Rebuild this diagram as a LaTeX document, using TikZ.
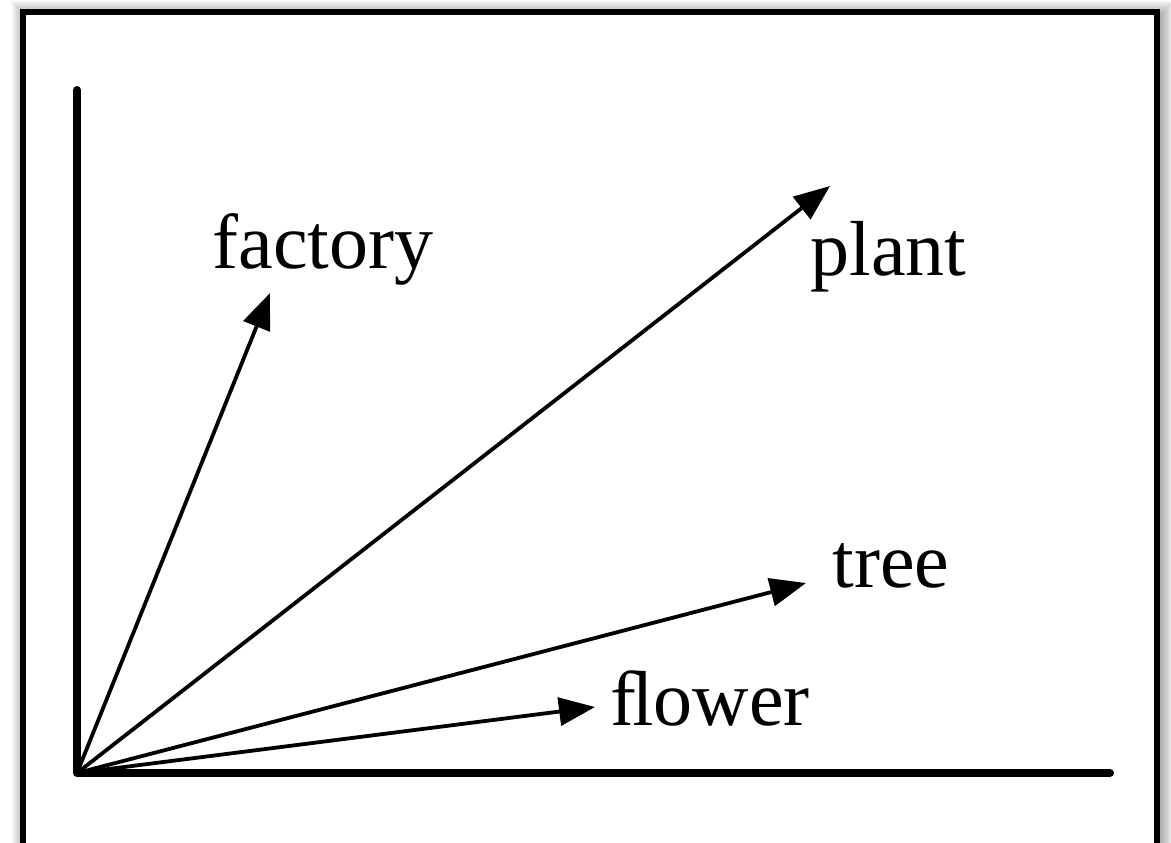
\documentclass[tikz,border=0pt]{standalone}
\usepackage{fontspec}
\setmainfont{Liberation Serif}
\usetikzlibrary{positioning,arrows.meta}
\tikzset{
  word/.style={anchor=base west, inner sep=0pt, font=\fontsize{39}{44}\selectfont},
  axis/.style={line width=4pt, line cap=round, line join=round},
  vec/.style={line width=1.9pt, -{Triangle[length=18pt,width=14pt]}}
}

\begin{document}
\begin{tikzpicture}[x=0.5pt, y=-0.5pt]

      \useasboundingbox (0,0) rectangle (1171,842);

      % frame and its shadow
      \foreach \w in {1,...,7}
        \draw [black, opacity=0.05, line width=\w*2pt] (26,15) rectangle (1160,880);
      \draw [line width=3pt, fill=white] (23,12) rectangle (1157,880);

      % axes
      \coordinate (o) at (77,773);
      \coordinate (ytop) at (77,90);
      \coordinate (xend) at (1110,773);
      \draw [axis] (ytop) -- (o) -- (xend);

      % words
      \node [word] at (212, 268) (factory) {factory};
      \node [word] at (810, 275) (plant) {plant};
      \node [word] at (832, 587) (tree) {tree};
      \node [word] at (610, 725) (flower) {ﬂower};

      \coordinate (factorytip) at (270,293);
      \coordinate (planttip) at (830,186);
      \coordinate (treetip) at (806,583);
      \coordinate (flowertip) at (595,707);

      \draw [vec] (o) -- (factorytip);
      \draw [vec] (o) -- (planttip);
      \draw [vec] (o) -- (treetip);
      \draw [vec] (o) -- (flowertip);
    \end{tikzpicture}
\end{document}
